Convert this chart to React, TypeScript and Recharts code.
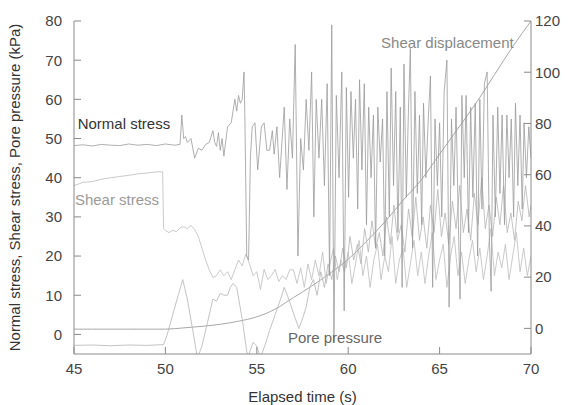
import { LineChart, Line, XAxis, YAxis, ReferenceDot } from 'recharts';

// [elapsed time (s), value]
const normalStress: [number, number][] = [
  [45, 48.2], [45.5, 48.4], [46, 48.1], [46.5, 48.5], [47, 48.3], [47.5, 48.2], [48, 48.6],
  [48.5, 48.3], [49, 48.5], [49.5, 48.2], [50, 48.6], [50.5, 48.3], [50.8, 48.5],
  [50.9, 56], [51.0, 50], [51.1, 50.5], [51.2, 49], [51.4, 50], [51.6, 45], [51.8, 47.5],
  [52.0, 47], [52.2, 48.5], [52.4, 49], [52.6, 52], [52.7, 49], [52.8, 48], [52.9, 51.5],
  [53.0, 47], [53.1, 50], [53.2, 45.5], [53.4, 53], [53.6, 54], [53.8, 60], [53.9, 57],
  [54.0, 61], [54.1, 59], [54.2, 60], [54.3, 67], [54.35, 55], [54.45, 20], [54.55, 19],
  [54.65, 45], [54.75, 53], [54.9, 54], [55.05, 42], [55.25, 53], [55.4, 54], [55.55, 47],
  [55.7, 47], [55.85, 52], [55.95, 46], [56.1, 53], [56.25, 40], [56.5, 58], [56.65, 37],
  [56.8, 55], [56.95, 45], [57.1, 74], [57.25, 20], [57.4, 50], [57.55, 42], [57.7, 60],
  [57.85, 47], [58.0, 67], [58.12, 30], [58.25, 60], [58.4, 45], [58.55, 60], [58.7, 38],
  [58.85, 64], [58.98, 15], [59.1, 79], [59.22, -2], [59.35, 61], [59.5, 40], [59.65, 67],
  [59.78, 6], [59.9, 63], [60.02, 35], [60.15, 62], [60.28, 45], [60.4, 60], [60.52, 32],
  [60.62, 65], [60.75, 42], [60.88, 64], [61.0, 28], [61.12, 58], [61.25, 40], [61.38, 56],
  [61.5, 22], [61.62, 58], [61.75, 44], [61.88, 55], [62.0, 20], [62.12, 62], [62.25, 30],
  [62.35, 68], [62.48, 38], [62.6, 62], [62.72, 26], [62.85, 58], [62.95, 12], [63.05, 69],
  [63.18, 35], [63.3, 58], [63.4, 73], [63.52, 22], [63.65, 62], [63.78, 36], [63.9, 56],
  [64.02, 28], [64.12, 59], [64.25, 40], [64.38, 55], [64.5, 66], [64.62, 12], [64.75, 55],
  [64.88, 38], [65.0, 54], [65.12, 30], [65.25, 62], [65.4, 70], [65.52, 7], [65.65, 55],
  [65.78, 38], [65.9, 58], [66.02, 30], [66.12, 9], [66.22, 61], [66.35, 40], [66.45, 61],
  [66.58, 26], [66.7, 58], [66.82, 35], [66.95, 59], [67.08, 20], [67.2, 60], [67.32, 32],
  [67.45, 64], [67.6, 67], [67.72, 25], [67.82, 11], [67.92, 56], [68.05, 30], [68.18, 58],
  [68.3, 36], [68.42, 56], [68.55, 28], [68.68, 56], [68.8, 40], [68.92, 55], [69.05, 30],
  [69.15, 59], [69.28, 38], [69.4, 56], [69.52, 32], [69.62, 54], [69.75, 40], [69.88, 53],
  [70.0, 45],
];

const shearStress: [number, number][] = [
  [45, 38], [45.5, 38.8], [46, 39], [46.5, 39.6], [47, 40], [47.5, 40.3], [48, 40.6],
  [48.5, 41], [49, 41.2], [49.5, 41.5], [49.85, 41.5], [49.9, 27], [50.0, 26.5], [50.2, 26],
  [50.4, 26.6], [50.6, 26.2], [50.8, 27.2], [51.0, 27.5], [51.2, 27], [51.4, 27.8],
  [51.6, 26.8], [51.8, 25], [52.0, 22], [52.2, 19], [52.4, 16.5], [52.6, 14.5], [52.8, 15],
  [53.0, 16.5], [53.2, 15], [53.4, 16], [53.6, 14], [53.8, 16.5], [54.0, 19], [54.2, 17.5],
  [54.4, 20.5], [54.6, 18], [54.8, 15], [55.0, 16], [55.2, 11.5], [55.4, 16.6], [55.6, 14],
  [55.8, 15], [56.0, 16.6], [56.2, 13.5], [56.4, 15], [56.6, 14], [56.8, 16.5], [57.0, 16.5],
  [57.2, 13], [57.4, 17], [57.6, 12], [57.8, 18], [58.0, 14], [58.2, 19], [58.4, 15],
  [58.6, 21], [58.8, 13], [59.0, 18], [59.2, 22], [59.4, 14], [59.6, 19], [59.8, 16],
  [60.0, 21], [60.2, 13], [60.4, 18], [60.6, 24], [60.8, 15], [61.0, 20], [61.2, 12],
  [61.4, 19], [61.6, 23], [61.8, 14], [62.0, 20], [62.2, 16], [62.4, 25], [62.6, 13],
  [62.8, 19], [63.0, 22], [63.2, 12], [63.4, 18], [63.6, 24], [63.8, 15], [64.0, 21],
  [64.2, 13], [64.4, 20], [64.6, 26], [64.8, 14], [65.0, 19], [65.2, 23], [65.4, 12],
  [65.6, 20], [65.8, 25], [66.0, 15], [66.2, 21], [66.4, 13], [66.6, 19], [66.8, 24],
  [67.0, 16], [67.2, 22], [67.4, 14], [67.6, 20], [67.8, 27], [68.0, 15], [68.2, 21],
  [68.4, 17], [68.6, 23], [68.8, 14], [69.0, 20], [69.2, 26], [69.4, 16], [69.6, 22],
  [69.8, 15], [70.0, 20],
];

const porePressure: [number, number][] = [
  [45, -2.8], [46, -2.7], [47, -2.9], [48, -2.7], [49, -2.8], [49.9, -2.6], [50.1, 0],
  [50.4, 5], [50.7, 10], [50.95, 14], [51.2, 9], [51.5, 1], [51.75, -6], [52.0, -3],
  [52.3, 3], [52.6, 9], [52.8, 8.5], [53.0, 10.5], [53.2, 10], [53.4, 10], [53.55, 12],
  [53.7, 13], [53.9, 12], [54.05, 8], [54.2, 4], [54.5, -6], [54.8, -2], [55.0, -3],
  [55.2, -6], [55.5, -2], [55.7, 1], [56.0, 5], [56.3, 9], [56.5, 12], [56.75, 9],
  [57.0, 5.5], [57.3, 1.5], [57.5, 4], [57.7, 7], [57.9, 12], [58.1, 14], [58.3, 10],
  [58.5, 16], [58.7, 12], [58.9, 18], [59.1, 14], [59.3, 20], [59.5, 16], [59.7, 22],
  [59.9, 17], [60.1, 25], [60.3, 19], [60.5, 23], [60.7, 18], [60.9, 27], [61.1, 21],
  [61.3, 29], [61.5, 22], [61.7, 26], [61.9, 20], [62.1, 30], [62.3, 23], [62.5, 33],
  [62.7, 24], [62.9, 28], [63.1, 21], [63.3, 32], [63.5, 25], [63.7, 35], [63.9, 24],
  [64.1, 30], [64.3, 22], [64.5, 33], [64.7, 26], [64.9, 37], [65.1, 25], [65.3, 31],
  [65.5, 23], [65.7, 34], [65.9, 27], [66.1, 38], [66.3, 26], [66.5, 32], [66.7, 24],
  [66.9, 36], [67.1, 28], [67.3, 40], [67.5, 27], [67.7, 33], [67.9, 25], [68.1, 35],
  [68.3, 28], [68.5, 38], [68.7, 26], [68.9, 31], [69.1, 24], [69.3, 34], [69.5, 29],
  [69.7, 38], [69.9, 30], [70.0, 33],
];

// right axis (displacement, mm)
const shearDisplacement: [number, number][] = [
  [45, -0.3], [46, -0.3], [47, -0.3], [48, -0.3], [49, -0.3], [50, -0.3], [51, 0.2],
  [52, 0.8], [53, 1.6], [54, 2.8], [55, 4.5], [56, 7.5], [57, 12], [58, 16.5], [59, 21.5],
  [60, 27], [61, 34], [62, 41.5], [63, 50], [64, 58], [65, 68], [66, 78], [67, 88],
  [68, 99], [69, 110], [70, 120],
];

const timeTicks = [45, 50, 55, 60, 65, 70];
const leftTicks = [0, 10, 20, 30, 40, 50, 60, 70, 80];
const rightTicks = [0, 20, 40, 60, 80, 100, 120];

const toRows = (pts: [number, number][]) => pts.map(([t, v]) => ({ t, v }));

const FONT = '"Liberation Sans", Arial, sans-serif';
const frame = '#8a8a8a';
const tickText = { fontSize: 15, fill: '#444', fontFamily: FONT };

export default function App() {
  return (
    <div style={{ position: 'absolute', left: 0, top: 0, width: 571, height: 405, background: '#fff' }}>
      <LineChart width={571} height={405} margin={{ top: 21, right: 0, bottom: 0, left: 0 }}>
        <XAxis
          xAxisId="b"
          dataKey="t"
          type="number"
          domain={[45, 70]}
          ticks={timeTicks}
          height={51}
          stroke={frame}
          tickSize={-7}
          tickMargin={16}
          tick={tickText}
          allowDataOverflow
          label={{ value: 'Elapsed time (s)', position: 'insideBottom', offset: 3, style: { fontSize: 15, fill: '#333', fontFamily: FONT } }}
        />
        <XAxis
          xAxisId="top"
          orientation="top"
          dataKey="t"
          type="number"
          domain={[45, 70]}
          ticks={timeTicks}
          height={0}
          stroke={frame}
          tickSize={-7}
          tickFormatter={() => ''}
        />
        <YAxis
          yAxisId="left"
          domain={[-5, 80]}
          ticks={leftTicks}
          width={74}
          stroke={frame}
          tickSize={-7}
          tickMargin={19}
          tick={tickText}
          allowDataOverflow
          label={{
            value: 'Normal stress, Shear stress, Pore pressure (kPa)',
            angle: -90,
            position: 'insideLeft',
            offset: 15,
            style: { textAnchor: 'middle', fontSize: 15, fill: '#333', fontFamily: FONT },
          }}
        />
        <YAxis
          yAxisId="right"
          orientation="right"
          domain={[-10, 120]}
          ticks={rightTicks}
          width={40}
          stroke={frame}
          tickSize={-7}
          tickMargin={11}
          tick={tickText}
          allowDataOverflow
        />
        <Line xAxisId="b" yAxisId="right" data={toRows(shearDisplacement)} dataKey="v" type="monotone"
          stroke="#a8a8a8" strokeWidth={1} dot={false} isAnimationActive={false} />
        <Line xAxisId="b" yAxisId="left" data={toRows(porePressure)} dataKey="v" type="linear"
          stroke="#b4b4b4" strokeWidth={0.8} dot={false} isAnimationActive={false} />
        <Line xAxisId="b" yAxisId="left" data={toRows(shearStress)} dataKey="v" type="linear"
          stroke="#bcbcbc" strokeWidth={0.8} dot={false} isAnimationActive={false} />
        <Line xAxisId="b" yAxisId="left" data={toRows(normalStress)} dataKey="v" type="linear"
          stroke="#9a9a9a" strokeWidth={0.8} dot={false} isAnimationActive={false} />

        <ReferenceDot xAxisId="b" yAxisId="left" x={45.2} y={53.7} r={0} stroke="none"
          label={{ value: 'Normal stress', position: 'right', offset: 0, style: { fontSize: 15, fill: '#333', fontFamily: FONT } }} />
        <ReferenceDot xAxisId="b" yAxisId="left" x={45.05} y={34.4} r={0} stroke="none"
          label={{ value: 'Shear stress', position: 'right', offset: 0, style: { fontSize: 15, fill: '#9a9a9a', fontFamily: FONT } }} />
        <ReferenceDot xAxisId="b" yAxisId="left" x={56.7} y={-0.8} r={0} stroke="none"
          label={{ value: 'Pore pressure', position: 'right', offset: 0, style: { fontSize: 15, fill: '#666', fontFamily: FONT } }} />
        <ReferenceDot xAxisId="b" yAxisId="right" x={61.8} y={111.7} r={0} stroke="none"
          label={{ value: 'Shear displacement', position: 'right', offset: 0, style: { fontSize: 15, fill: '#888', fontFamily: FONT } }} />
      </LineChart>
    </div>
  );
}
